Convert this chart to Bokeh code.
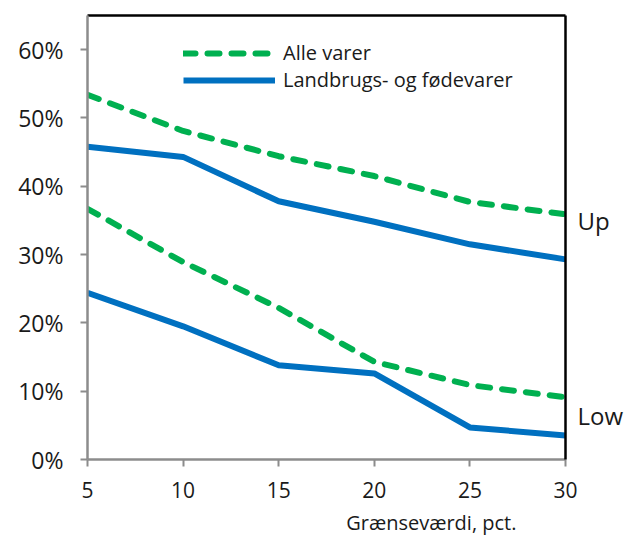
from bokeh.plotting import figure
from bokeh.models import (Range1d, NumeralTickFormatter, FixedTicker, Legend, LegendItem,
                          LinearAxis, ColumnDataSource)
from bokeh.embed import file_html
from bokeh.resources import INLINE

# ---- data ----
thresholds = [5, 10, 15, 20, 25, 30]
alle_up = [0.534, 0.481, 0.444, 0.415, 0.377, 0.359]
land_up = [0.458, 0.443, 0.378, 0.348, 0.315, 0.293]
alle_low = [0.367, 0.289, 0.222, 0.143, 0.109, 0.091]
land_low = [0.244, 0.195, 0.138, 0.126, 0.047, 0.035]
y_ticks = [0, 0.1, 0.2, 0.3, 0.4, 0.5, 0.6]
x_ticks = [5, 10, 15, 20, 25, 30]
series_names = ["Alle varer", "Landbrugs- og fødevarer"]
end_label_pos = [140, 26]          # on a 0-260 helper scale (quarter-percent units)
end_labels = ["Up", "Low"]
x_title = "Grænseværdi, pct."
x_title_pos = 346                  # on a 0-481 helper scale (placement of the title)

GREEN = "#00B050"
BLUE = "#0070C0"
FONT = "Open Sans"
TXT = "#1a1a1a"

p = figure(width=626, height=542, output_backend="svg", toolbar_location=None,
           x_range=Range1d(5, 30), y_range=Range1d(0, 0.65),
           min_border_left=87, min_border_right=0, min_border_top=15, min_border_bottom=83)
p.xgrid.visible = False
p.ygrid.visible = False
p.outline_line_color = None
p.background_fill_color = "white"
p.border_fill_color = "white"
p.extra_y_ranges = {"lab": Range1d(0, 260)}
p.extra_x_ranges = {"ttl": Range1d(0, 481)}

src = ColumnDataSource(dict(x=thresholds, au=alle_up, lu=land_up, al=alle_low, ll=land_low))

dash = "12 12"
r_au = p.line("x", "au", source=src, line_color=GREEN, line_width=6, line_dash=dash, line_cap="round")
r_al = p.line("x", "al", source=src, line_color=GREEN, line_width=6, line_dash=dash, line_cap="round")
r_lu = p.line("x", "lu", source=src, line_color=BLUE, line_width=6, line_join="round")
r_ll = p.line("x", "ll", source=src, line_color=BLUE, line_width=6, line_join="round")

# Axes
for ax in (p.xaxis[0], p.yaxis[0]):
    ax.axis_line_color = "#8c8c8c"
    ax.axis_line_width = 2.5
    ax.major_tick_line_color = "#8c8c8c"
    ax.major_tick_line_width = 2
    ax.major_tick_in = 0
    ax.major_tick_out = 7
    ax.minor_tick_line_color = None
    ax.major_label_text_font = FONT
    ax.major_label_text_color = TXT

p.yaxis[0].ticker = FixedTicker(ticks=y_ticks)
p.yaxis[0].formatter = NumeralTickFormatter(format="0%")
p.yaxis[0].major_label_standoff = 17
p.yaxis[0].major_label_text_font_size = "23px"
p.xaxis[0].ticker = FixedTicker(ticks=x_ticks)
p.xaxis[0].major_label_standoff = 15
p.xaxis[0].major_label_text_font_size = "21px"

# x-axis title as the single label of a second, invisible bottom axis
title_ax = LinearAxis(x_range_name="ttl", ticker=FixedTicker(ticks=[x_title_pos]),
                      major_label_overrides={x_title_pos: x_title},
                      axis_line_color=None, major_tick_line_color=None,
                      minor_tick_line_color=None, major_tick_out=0, major_tick_in=0,
                      major_label_standoff=8, major_label_text_font=FONT,
                      major_label_text_font_size="20px", major_label_text_color=TXT)
p.add_layout(title_ax, "below")

# top border (axis with no ticks / labels)
top_ax = LinearAxis(ticker=FixedTicker(ticks=[]), axis_line_color="black", axis_line_width=2.5,
                    major_tick_line_color=None, minor_tick_line_color=None,
                    major_label_text_font_size="0px")
p.add_layout(top_ax, "above")

# right border with "Up" / "Low" labels
right_ax = LinearAxis(y_range_name="lab", ticker=FixedTicker(ticks=end_label_pos),
                      major_label_overrides={end_label_pos[0]: end_labels[0],
                                             end_label_pos[1]: end_labels[1]},
                      axis_line_color="black", axis_line_width=2.5,
                      major_tick_line_color=None, minor_tick_line_color=None,
                      major_tick_out=0, major_tick_in=0,
                      major_label_standoff=12, major_label_text_font=FONT,
                      major_label_text_font_size="24px", major_label_text_color=TXT)
p.add_layout(right_ax, "right")

# Legend
leg = Legend(items=[LegendItem(label=series_names[0], renderers=[r_au]),
                    LegendItem(label=series_names[1], renderers=[r_lu])],
             location=(96, 366), padding=0, margin=0, spacing=0,
             glyph_width=92, glyph_height=20, label_standoff=8,
             label_text_font=FONT, label_text_font_size="20px", label_text_color=TXT,
             label_height=24,
             background_fill_alpha=0, border_line_color=None)
p.add_layout(leg)

open("out.html", "w").write(file_html(p, INLINE))
